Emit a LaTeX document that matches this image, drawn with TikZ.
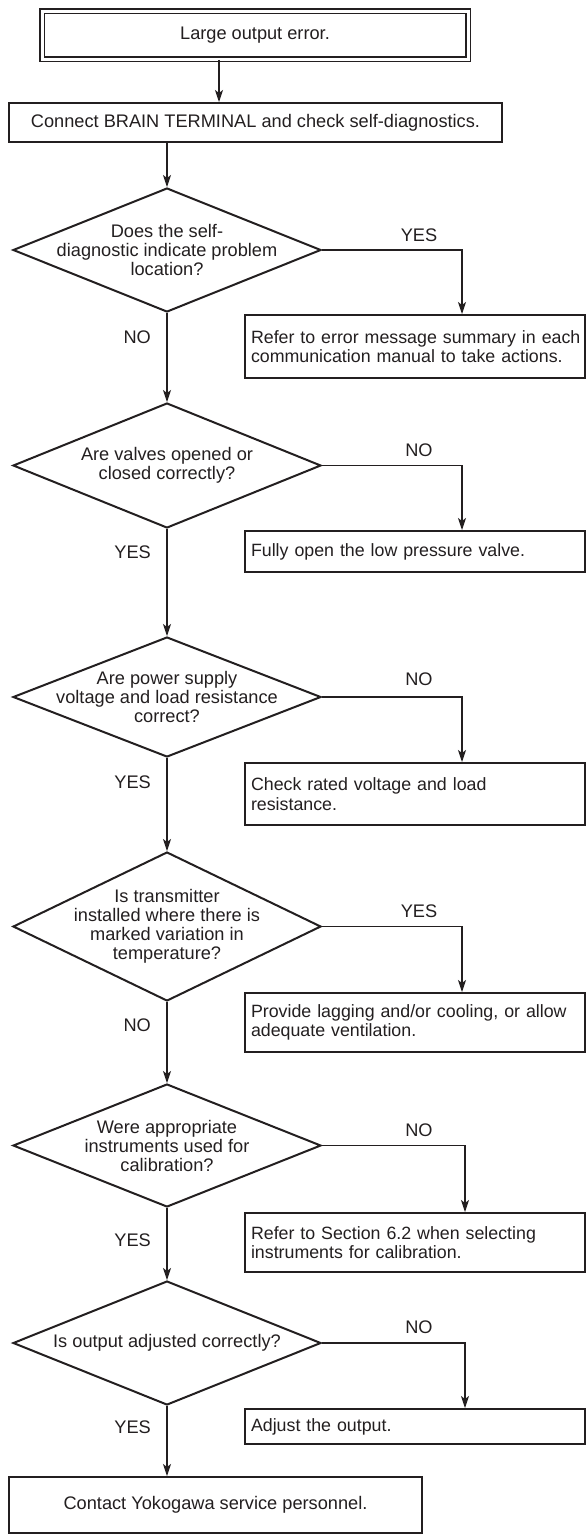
\documentclass[tikz,border=0pt]{standalone}
\usepackage{fontspec}
\setmainfont{Liberation Sans}
\usetikzlibrary{shapes.geometric,arrows.meta,calc}
\definecolor{ink}{HTML}{231F20}
\begin{document}
\begin{tikzpicture}[x=1pt,y=-1pt,
  every node/.style={font=\fontsize{18.2}{19}\selectfont, text=ink},
  box/.style={draw=ink, line width=2pt, inner sep=0pt, align=center},
  rbox/.style={draw=ink, line width=2pt, minimum width=340pt, text width=328pt, inner xsep=6pt, inner ysep=0pt, align=left, font=\fontsize{17.8}{19.5}\selectfont},
  dia/.style={draw=ink, line width=2pt, diamond, inner sep=0pt, minimum width=308pt},
  dtext/.style={align=center, inner sep=0pt},
  conn/.style={draw=ink, line width=1.1pt},
  arr/.style={conn, -{Stealth[length=12pt,width=8pt,inset=3pt]}},
  lbl/.style={inner sep=0pt}
]
\useasboundingbox (0,0) rectangle (586,1535);
\fill[white] (0,0) rectangle (586,1535);

% start and first step
\node[box, double, double distance=3pt, line width=1.5pt, minimum width=426pt, minimum height=48pt] (start) at (255,35) {Large output error.};
\node[box, minimum width=493pt, minimum height=39pt] (brain) at (255.5,122.5) {Connect BRAIN TERMINAL and check self-diagnostics.};
\coordinate (ax) at (219,0);
\coordinate (bA) at (462,0);
\coordinate (bB) at (465,0);

% decisions
\node[dia, minimum height=124pt] (d1) at (167,250) {};
\node[dtext] (d1t) at (d1) {Does the self-\\diagnostic indicate problem\\location?};
\node[dia, minimum height=125pt] (d2) at (167,465.5) {};
\node[dtext] (d2t) at (d2) {Are valves opened or\\closed correctly?};
\node[dia, minimum height=120pt] (d3) at (167,697) {};
\node[dtext] (d3t) at (d3) {Are power supply\\voltage and load resistance\\correct?};
\node[dia, minimum height=149pt] (d4) at (167,926.5) {};
\node[dtext] (d4t) at (d4) {Is transmitter\\installed where there is\\marked variation in\\temperature?};
\node[dia, minimum height=123pt] (d5) at (167,1145.5) {};
\node[dtext] (d5t) at (d5) {Were appropriate\\instruments used for\\calibration?};
\node[dia, minimum height=124pt] (d6) at (167,1343) {};
\node[dtext] (d6t) at (d6) {Is output adjusted correctly?};

% actions on the right
\node[rbox, minimum height=63pt] (r1) at (415,346.5) {\mbox{Refer to error message summary in each}\\communication manual to take actions.};
\node[rbox, minimum height=41pt] (r2) at (415,551.5) {Fully open the low pressure valve.};
\node[rbox, minimum height=62pt] (r3) at (415,794) {Check rated voltage and load\\resistance.};
\node[rbox, minimum height=59pt] (r4) at (415,1022.5) {\mbox{Provide lagging and/or cooling, or allow}\\adequate ventilation.};
\node[rbox, minimum height=59pt] (r5) at (415,1242.5) {Refer to Section 6.2 when selecting\\instruments for calibration.};
\node[rbox, minimum height=35pt] (r6) at (415,1426.5) {Adjust the output.};

% end
\node[box, minimum width=413pt, minimum height=56pt] (fin) at (215.5,1505) {Contact Yokogawa service personnel.};

% main flow
\draw[arr] (start.south -| ax) -- (brain.north -| ax);
\draw[arr] (brain.south -| d1.north) -- (d1.north);
\draw[arr] (d1.south) -- (d2.north);
\draw[arr] (d2.south) -- (d3.north);
\draw[arr] (d3.south) -- (d4.north);
\draw[arr] (d4.south) -- (d5.north);
\draw[arr] (d5.south) -- (d6.north);
\draw[arr] (d6.south) -- (fin.north -| d6.south);

% branches
\draw[arr] (d1.east) -| (r1.north -| bA);
\draw[arr] (d2.east) -| (r2.north -| bA);
\draw[arr] (d3.east) -| (r3.north -| bA);
\draw[arr] (d4.east) -| (r4.north -| bA);
\draw[arr] (d5.east) -| (r5.north -| bB);
\draw[arr] (d6.east) -| (r6.north -| bB);

% labels
\node[lbl] (l1) at (419,235) {YES};
\node[lbl] (l2) at (419,450) {NO};
\node[lbl] (l3) at (419,679) {NO};
\node[lbl] (l4) at (419,911) {YES};
\node[lbl] (l5) at (419,1130) {NO};
\node[lbl] (l6) at (419,1327) {NO};
\node[lbl, anchor=east] (m1) at (151,337) {NO};
\node[lbl, anchor=east] (m2) at (151,552) {YES};
\node[lbl, anchor=east] (m3) at (151,782) {YES};
\node[lbl, anchor=east] (m4) at (151,1025) {NO};
\node[lbl, anchor=east] (m5) at (151,1240) {YES};
\node[lbl, anchor=east] (m6) at (151,1427) {YES};
\end{tikzpicture}
\end{document}
